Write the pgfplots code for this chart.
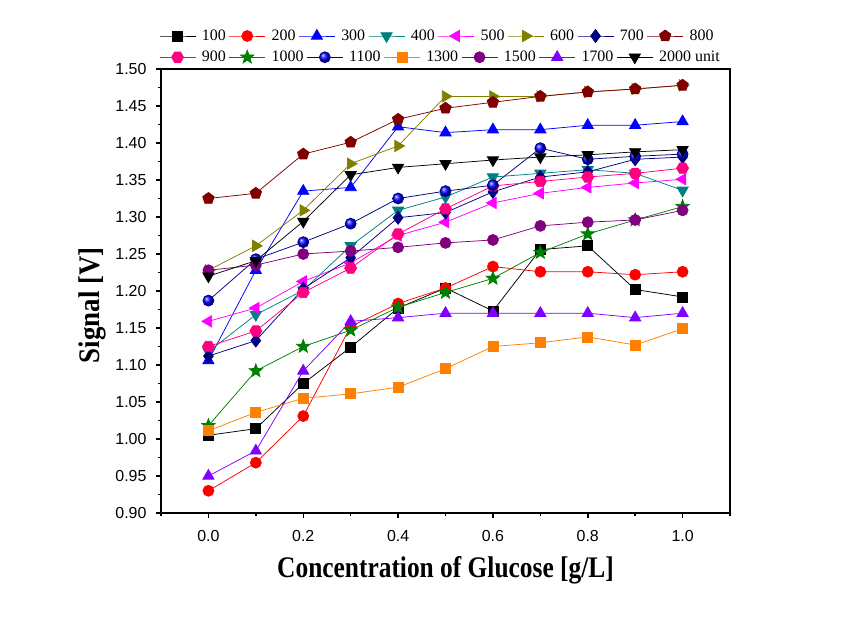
\documentclass[border=0pt]{standalone}
\usepackage{fontspec}
\setmainfont{Liberation Serif}
\newfontfamily\arial{Liberation Sans}
\usepackage{graphicx}
\usepackage{pgfplots}
\usepackage{pgfplotstable}
\pgfplotsset{compat=1.18}
\usetikzlibrary{plotmarks}

\definecolor{cteal}{RGB}{0,128,128}
\definecolor{cmag}{RGB}{255,0,255}
\definecolor{colive}{RGB}{128,128,0}
\definecolor{cnavy}{RGB}{0,0,128}
\definecolor{cwine}{RGB}{128,0,0}
\definecolor{cpink}{RGB}{255,0,128}
\definecolor{cgreen}{RGB}{0,128,0}
\definecolor{corange}{RGB}{255,128,0}
\definecolor{cpurple}{RGB}{128,0,128}
\definecolor{cviolet}{RGB}{128,0,255}

\pgfdeclareplotmark{hexagon*}{%
  \pgfpathmoveto{\pgfpointpolar{0}{\pgfplotmarksize}}%
  \pgfpathlineto{\pgfpointpolar{60}{\pgfplotmarksize}}%
  \pgfpathlineto{\pgfpointpolar{120}{\pgfplotmarksize}}%
  \pgfpathlineto{\pgfpointpolar{180}{\pgfplotmarksize}}%
  \pgfpathlineto{\pgfpointpolar{240}{\pgfplotmarksize}}%
  \pgfpathlineto{\pgfpointpolar{300}{\pgfplotmarksize}}%
  \pgfpathclose\pgfusepathqfillstroke}
\pgfdeclareplotmark{star5*}{%
  \pgfpathmoveto{\pgfpointpolar{90}{\pgfplotmarksize}}%
  \pgfpathlineto{\pgfpointpolar{126}{0.42\pgfplotmarksize}}%
  \pgfpathlineto{\pgfpointpolar{162}{\pgfplotmarksize}}%
  \pgfpathlineto{\pgfpointpolar{198}{0.42\pgfplotmarksize}}%
  \pgfpathlineto{\pgfpointpolar{234}{\pgfplotmarksize}}%
  \pgfpathlineto{\pgfpointpolar{270}{0.42\pgfplotmarksize}}%
  \pgfpathlineto{\pgfpointpolar{306}{\pgfplotmarksize}}%
  \pgfpathlineto{\pgfpointpolar{342}{0.42\pgfplotmarksize}}%
  \pgfpathlineto{\pgfpointpolar{18}{\pgfplotmarksize}}%
  \pgfpathlineto{\pgfpointpolar{54}{0.42\pgfplotmarksize}}%
  \pgfpathclose\pgfusepathqfillstroke}

\pgfplotstableread{
x    s100  s200  s300  s400  s500  s600  s700  s800  s900  s1000 s1100 s1300 s1500 s1700 s2000
0.0  1.005 0.930 1.106 1.118 1.159 1.228 1.112 1.325 1.125 1.018 1.187 1.011 1.228 0.950 1.220
0.1  1.014 0.968 1.228 1.168 1.177 1.261 1.133 1.332 1.146 1.092 1.243 1.036 1.235 0.984 1.241
0.2  1.075 1.031 1.335 1.201 1.213 1.309 1.203 1.385 1.198 1.125 1.266 1.055 1.250 1.092 1.294
0.3  1.124 1.152 1.340 1.261 1.238 1.372 1.245 1.401 1.231 1.147 1.291 1.061 1.254 1.159 1.357
0.4  1.177 1.183 1.422 1.309 1.275 1.396 1.299 1.432 1.277 1.178 1.325 1.070 1.259 1.164 1.367
0.5  1.204 1.204 1.414 1.327 1.293 1.463 1.306 1.447 1.311 1.198 1.335 1.095 1.265 1.170 1.372
0.6  1.173 1.233 1.418 1.354 1.319 1.463 1.334 1.455 1.342 1.217 1.343 1.125 1.269 1.170 1.377
0.7  1.256 1.226 1.418 1.359 1.332 1.463 1.354 1.463 1.348 1.252 1.393 1.130 1.288 1.170 1.381
0.8  1.261 1.226 1.424 1.364 1.340 1.469 1.361 1.469 1.354 1.277 1.378 1.138 1.293 1.170 1.384
0.9  1.202 1.222 1.424 1.359 1.346 1.473 1.378 1.473 1.359 1.296 1.382 1.127 1.296 1.164 1.388
1.0  1.192 1.226 1.429 1.336 1.351 1.478 1.381 1.478 1.366 1.314 1.385 1.149 1.309 1.170 1.391
}\data

\pgfplotsset{
  common/.style={
    width=569bp, height=444bp, scale only axis,
    xmin=-0.1, xmax=1.1, ymin=0.9, ymax=1.5,
    every axis plot/.append style={line width=0.75bp},
    legend image code/.code={\draw[mark repeat=2,mark phase=2,##1] plot coordinates {(0bp,0bp) (18bp,0bp) (36bp,0bp)};},
    legend style={at={(rel axis cs:0,1)}, anchor=west, xshift=-2bp,
      draw=none, fill=none, inner sep=0pt,
      font=\fontsize{16}{19}\selectfont,
      nodes={inner sep=0pt},
      /tikz/every odd column/.style={column sep=6bp},
      /tikz/every even column/.style={column sep=3bp}},
  }
}

\begin{document}
\begin{tikzpicture}
\begin{axis}[common,
  xtick={0,0.2,0.4,0.6,0.8,1.0},
  minor xtick={-0.1,0.1,0.3,0.5,0.7,0.9,1.1},
  ytick={0.90,0.95,1.00,1.05,1.10,1.15,1.20,1.25,1.30,1.35,1.40,1.45,1.50},
  minor ytick={0.925,0.975,1.025,1.075,1.125,1.175,1.225,1.275,1.325,1.375,1.425,1.475},
  tick align=outside, xtick pos=bottom, ytick pos=left,
  major tick length=5bp, minor tick length=3bp,
  tick style={black, line width=1.5bp},
  axis line style={line width=1.8bp},
  /pgf/number format/assume math mode=true,
  xticklabel style={yshift=-9bp, /pgf/number format/.cd,fixed,fixed zerofill,precision=1},
  yticklabel style={xshift=-6bp, /pgf/number format/.cd,fixed,fixed zerofill,precision=2},
  tick label style={font=\arial\fontsize{16}{19}\selectfont},
  xlabel={\scalebox{0.85}[1]{Concentration of Glucose [g/L]}},
  ylabel={\scalebox{0.9}[1]{Signal [V]}},
  label style={font=\bfseries\fontsize{30}{34}\selectfont},
  xlabel style={at={(ticklabel cs:0.5,8bp)}, anchor=north},
  ylabel style={at={(ticklabel cs:0.468,3bp)}, anchor=south},
  legend columns=8,
  legend style={yshift=33bp},
]
\addplot[color=black, mark=square*, mark size=5bp] table[x=x,y=s100] {\data};
\addlegendentry{100}
\addplot[color=red, mark=*, mark size=5.5bp] table[x=x,y=s200] {\data};
\addlegendentry{200}
\addplot[color=blue, mark=triangle*, mark size=6.5bp] table[x=x,y=s300] {\data};
\addlegendentry{300}
\addplot[color=cteal, mark=triangle*, mark size=6.5bp, mark options={rotate=180}] table[x=x,y=s400] {\data};
\addlegendentry{400}
\addplot[color=cmag, mark=triangle*, mark size=6.5bp, mark options={rotate=90}] table[x=x,y=s500] {\data};
\addlegendentry{500}
\addplot[color=colive, mark=triangle*, mark size=6.5bp, mark options={rotate=-90}] table[x=x,y=s600] {\data};
\addlegendentry{600}
\addplot[color=cnavy, mark=diamond*, mark size=6.5bp] table[x=x,y=s700] {\data};
\addlegendentry{700}
\addplot[color=cwine, mark=pentagon*, mark size=6bp] table[x=x,y=s800] {\data};
\addlegendentry{800}
\end{axis}
\begin{axis}[common, hide axis,
  legend columns=7,
  legend style={yshift=12bp},
]
\addplot[color=cpink, mark=hexagon*, mark size=6bp] table[x=x,y=s900] {\data};
\addlegendentry{900}
\addplot[color=cgreen, mark=star5*, mark size=7bp] table[x=x,y=s1000] {\data};
\addlegendentry{1000}
\addplot[color=cnavy, mark=ball, mark size=5.5bp, mark options={ball color=blue}] table[x=x,y=s1100] {\data};
\addlegendentry{1100}
\addplot[color=corange, mark=square*, mark size=5bp] table[x=x,y=s1300] {\data};
\addlegendentry{1300}
\addplot[color=cpurple, mark=*, mark size=5.5bp] table[x=x,y=s1500] {\data};
\addlegendentry{1500}
\addplot[color=cviolet, mark=triangle*, mark size=6.5bp] table[x=x,y=s1700] {\data};
\addlegendentry{1700}
\addplot[color=black, mark=triangle*, mark size=6.5bp, mark options={rotate=180}] table[x=x,y=s2000] {\data};
\addlegendentry{2000 unit}
\end{axis}
\pgfresetboundingbox
\useasboundingbox (-161bp,-108bp) rectangle (701bp,513bp);
\end{tikzpicture}
\end{document}
